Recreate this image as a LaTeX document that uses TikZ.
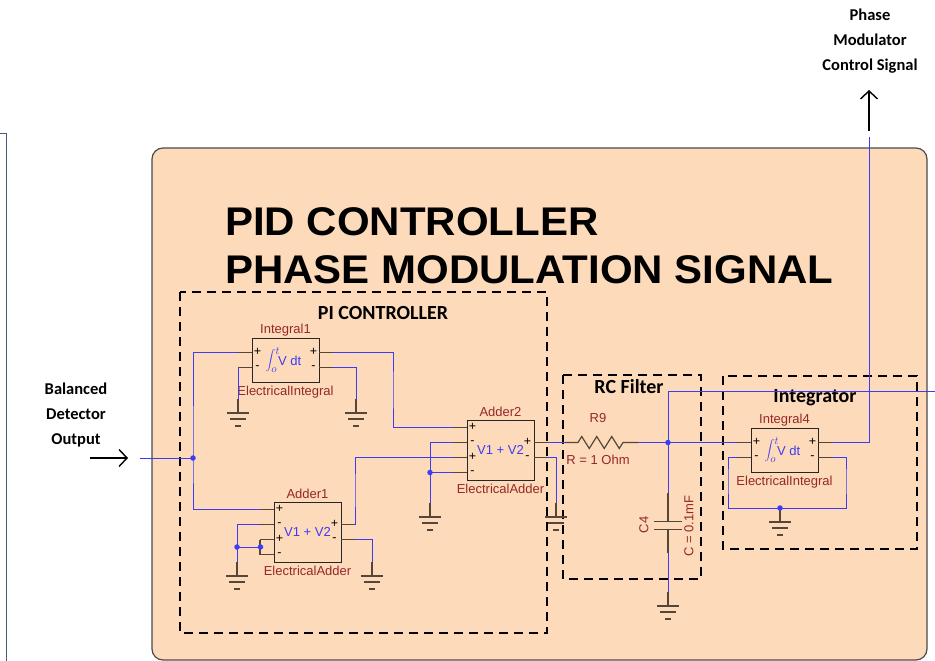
\documentclass[tikz,border=0pt]{standalone}
\usepackage{fontspec}
\setmainfont{Liberation Sans}
\newfontfamily\calibri{Carlito}
\newfontfamily\bigtitle[FakeStretch=1.05]{Liberation Sans}
\usetikzlibrary{arrows.meta}

\definecolor{panel}{RGB}{253,218,185}
\definecolor{wireblue}{RGB}{60,60,245}
\definecolor{partred}{RGB}{150,40,40}
\definecolor{pinbrown}{RGB}{85,70,55}
\definecolor{leftedge}{RGB}{70,90,130}

\tikzset{
	block/.style={draw=black!85, line width=0.9pt, minimum width=67pt, inner sep=0pt},
	wire/.style={draw=wireblue, line width=0.9pt},
	stub/.style={draw=pinbrown, line width=1.2pt},
	junction/.style={circle, fill=wireblue, inner sep=0pt, minimum size=5.5pt},
	partname/.style={text=partred, font=\fontsize{13}{13}\selectfont, inner sep=0pt},
	pinsign/.style={font=\fontsize{12.5}{12.5}\selectfont, inner sep=0pt},
	region/.style={draw=black, line width=2.8pt, dash pattern=on 9pt off 6pt},
	regiontitle/.style={font=\calibri\bfseries\fontsize{20}{20}\selectfont, inner sep=0pt},
	sidelabel/.style={font=\calibri\bfseries\fontsize{16.5}{25}\selectfont, align=center, inner sep=0pt},
	signal/.style={-{Straight Barb[length=8pt,width=17pt,line width=1.4pt]}, line width=1.4pt},
	gnd/.pic={
		\coordinate (-top) at (0,-14);
		\draw[stub] (0,-14) -- (0,0) (-11,0) -- (11,0) (-8,6) -- (8,6) (-3,13) -- (3,13);
	},
	intblock/.pic={
		\node[block, minimum height=44pt] (-box) at (0,0) {};
		\draw[stub] (-33.5,-7.5) -- (-47.5,-7.5) (-33.5,7.5) -- (-47.5,7.5) (33.5,-7.5) -- (47.5,-7.5) (33.5,7.5) -- (47.5,7.5);
		\coordinate (-in-p) at (-47.5,-7.5);
		\coordinate (-in-m) at (-47.5,7.5);
		\coordinate (-out-p) at (47.5,-7.5);
		\coordinate (-out-m) at (47.5,7.5);
		\node[pinsign] at (-28,-8) {+};
		\node[pinsign] at (-28,8) {-};
		\node[pinsign] at (28,-8) {+};
		\node[pinsign] at (28,8) {-};
		\node[text=wireblue, font=\fontsize{13}{13}\selectfont, inner sep=0pt] (-func) at (-2,0) {\fontsize{16}{16}\selectfont$\displaystyle\int_{o}^{t}$\kern-2pt\fontsize{13}{13}\selectfont V dt};
		\node[partname] (-name) at (0,-30) {#1};
		\node[partname] (-kind) at (0,32) {ElectricalIntegral};
	},
	adderblock/.pic={
		\node[block, minimum height=60pt] (-box) at (0,0) {};
		\draw[stub] (-33.5,-22.5) -- (-47.5,-22.5) (-33.5,-7.5) -- (-47.5,-7.5) (-33.5,7.5) -- (-47.5,7.5) (-33.5,22.5) -- (-47.5,22.5);
		\draw[stub] (33.5,-7.5) -- (47.5,-7.5) (33.5,7.5) -- (47.5,7.5);
		\coordinate (-in-1) at (-47.5,-22.5);
		\coordinate (-in-2) at (-47.5,-7.5);
		\coordinate (-in-3) at (-47.5,7.5);
		\coordinate (-in-4) at (-47.5,22.5);
		\coordinate (-out-p) at (47.5,-7.5);
		\coordinate (-out-m) at (47.5,7.5);
		\node[pinsign] at (-28,-23) {+};
		\node[pinsign] at (-28,-7) {-};
		\node[pinsign] at (-28,7) {+};
		\node[pinsign] at (-28,23) {-};
		\node[pinsign] at (27,-8) {+};
		\node[pinsign] at (27,8) {-};
		\node[text=wireblue, font=\fontsize{13}{13}\selectfont, inner sep=0pt] (-func) at (0,0) {V1 + V2};
		\node[partname] (-name) at (0,-38) {#1};
		\node[partname] (-kind) at (0,39) {ElectricalAdder};
	}
}

\begin{document}
\begin{tikzpicture}[x=1pt, y=-1pt]
	\useasboundingbox (0,0) rectangle (935,661);
	\draw[leftedge, line width=1pt] (0,133) -- (6,133) -- (6,661);
	\draw[fill=panel, draw=black!70, line width=1.2pt, rounded corners=11pt] (152,148) rectangle (927,660);

	\node[font=\bigtitle\bfseries\fontsize{40}{48}\selectfont, anchor=base west, inner sep=0pt] (title-1) at (225,235) {PID CONTROLLER};
	\node[font=\bigtitle\bfseries\fontsize{40}{48}\selectfont, anchor=base west, inner sep=0pt] (title-2) at (225,283) {PHASE MODULATION SIGNAL};

	\draw[region] (180,292) rectangle (547,633);
	\draw[region] (563,375) rectangle (701,579);
	\draw[region] (723,376) rectangle (917,549);
	\node[regiontitle] (pi-title) at (383,313) {PI CONTROLLER};
	\node[regiontitle] (rc-title) at (629,387) {RC Filter};
	\node[regiontitle] (integrator-title) at (815,398) {Integrator};

	\pic (integral-1) at (285.5,360) {intblock=Integral1};
	\pic (adder-1) at (307.5,532) {adderblock=Adder1};
	\pic (adder-2) at (500.5,450) {adderblock=Adder2};
	\pic (integral-4) at (784.5,450) {intblock=Integral4};

	\pic (gnd-1) at (238,413) {gnd};
	\pic (gnd-2) at (356,413) {gnd};
	\pic (gnd-3) at (237,576) {gnd};
	\pic (gnd-4) at (372,576) {gnd};
	\pic (gnd-5) at (430,517) {gnd};
	\pic (gnd-6) at (556,517) {gnd};
	\pic (gnd-7) at (668,606) {gnd};
	\pic (gnd-8) at (780,522) {gnd};

	\coordinate (detector-arrow-tail) at (90,458);
	\coordinate (detector-arrow-tip) at (128,458);
	\coordinate (input-end) at (140,458);
	\coordinate (input-split) at (193,458);
	\coordinate (bend-1) at (393,390);
	\coordinate (bend-2) at (355,490);
	\coordinate (adder-1-tie) at (260.5,547);
	\coordinate (adder-1-gnd) at (237,547);
	\coordinate (adder-2-tie) at (430,472.5);
	\coordinate (r9-left) at (565,442.5);
	\coordinate (r9-right) at (638,442.5);
	\coordinate (rc-split) at (668,442.5);
	\coordinate (rc-exit) at (935,391);
	\coordinate (c4-top) at (668,493);
	\coordinate (c4-bottom) at (668,553);
	\coordinate (loop-left) at (728,480);
	\coordinate (loop-right) at (846,480);
	\coordinate (integral-4-tie) at (780,508);
	\coordinate (control-out) at (869,137);
	\coordinate (control-arrow-tail) at (869,131);
	\coordinate (control-arrow-tip) at (869,90);

	\draw[wire] (input-end) -- (input-split);
	\draw[wire] (integral-1-in-p) -| (input-split) |- (adder-1-in-1);
	\draw[wire] (integral-1-in-m) -- (gnd-1-top);
	\draw[wire] (integral-1-out-m) -| (gnd-2-top);
	\draw[wire] (integral-1-out-p) -| (bend-1) |- (adder-2-in-1);
	\draw[wire] (adder-1-in-2) -| (gnd-3-top);
	\draw[stub] (adder-1-in-3) -- (adder-1-in-4);
	\draw[wire] (adder-1-tie) -- (adder-1-gnd);
	\draw[wire] (adder-1-out-p) -| (bend-2) |- (adder-2-in-3);
	\draw[wire] (adder-1-out-m) -| (gnd-4-top);
	\draw[wire] (adder-2-in-2) -| (gnd-5-top);
	\draw[wire] (adder-2-in-4) -- (adder-2-tie);
	\draw[wire] (adder-2-out-p) -- (r9-left);
	\draw[wire] (adder-2-out-m) -| (gnd-6-top);
	\draw[stub] (r9-left) -- ++(13,0) -- ++(3.75,-6) -- ++(7.5,12) -- ++(7.5,-12) -- ++(7.5,12) -- ++(7.5,-12) -- ++(7.5,12) -- ++(3.75,-6) -- (r9-right);
	\draw[wire] (r9-right) -- (rc-split);
	\draw[wire] (rc-split) -- (integral-4-in-p);
	\draw[wire] (rc-split) |- (rc-exit);
	\draw[wire] (rc-split) -- (c4-top);
	\draw[stub] (c4-top) -- (668,521.5) (654,521.5) -- (682,521.5) (654,529.5) -- (682,529.5) (668,529.5) -- (c4-bottom);
	\draw[wire] (c4-bottom) -- (gnd-7-top);
	\draw[wire] (integral-4-in-m) -| (loop-left) |- (integral-4-tie);
	\draw[wire] (integral-4-out-m) -| (loop-right) |- (integral-4-tie);
	\draw[wire] (integral-4-out-p) -| (control-out);

	\node[junction] (input-split-dot) at (input-split) {};
	\node[junction] (adder-1-tie-dot) at (adder-1-tie) {};
	\node[junction] (adder-1-gnd-dot) at (adder-1-gnd) {};
	\node[junction] (adder-2-tie-dot) at (adder-2-tie) {};
	\node[junction] (rc-split-dot) at (rc-split) {};
	\node[junction] (integral-4-tie-dot) at (integral-4-tie) {};

	\node[partname] (r9-name) at (598,418) {R9};
	\node[partname] (r9-value) at (598,460) {R = 1 Ohm};
	\node[partname, rotate=90] (c4-name) at (644,525) {C4};
	\node[partname, rotate=90] (c4-value) at (689,526) {C = 0.1mF};

	\node[sidelabel] (detector-label) at (76,415) {Balanced\\Detector\\Output};
	\draw[signal] (detector-arrow-tail) -- (detector-arrow-tip);
	\node[sidelabel] (control-label) at (870,41) {Phase\\Modulator\\Control Signal};
	\draw[signal] (control-arrow-tail) -- (control-arrow-tip);
\end{tikzpicture}
\end{document}
